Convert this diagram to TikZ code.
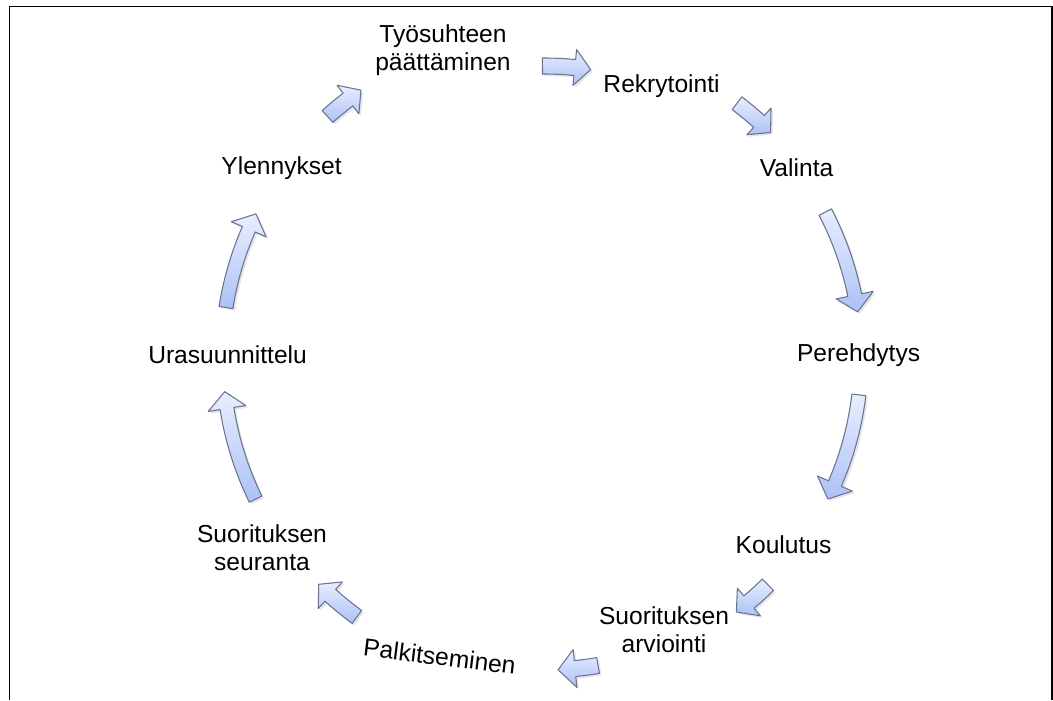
\documentclass[tikz,border=0pt]{standalone}
\usepackage{fontspec}
\setmainfont{Liberation Sans}
\usetikzlibrary{shadows}

\definecolor{arrowtop}{RGB}{232,238,255}
\definecolor{arrowbottom}{RGB}{172,193,246}
\definecolor{arrowline}{RGB}{105,115,145}

% curved block arrow round the centre:
% start angle, end angle, radius, half shaft, half head, head length
\newcommand{\cyclearrow}[6]{%
  \pgfmathsetmacro{\arrHead}{#2+#6/#3*57.2958}%
  \pgfmathsetmacro{\arrOut}{#3+#4}\pgfmathsetmacro{\arrIn}{#3-#4}%
  \pgfmathsetmacro{\arrHo}{#3+#5}\pgfmathsetmacro{\arrHi}{#3-#5}%
  \draw[blockarrow] (#1:\arrOut) arc[start angle=#1, end angle=\arrHead, radius=\arrOut]
    -- (\arrHead:\arrHo) -- (#2:#3) -- (\arrHead:\arrHi) -- (\arrHead:\arrIn)
    arc[start angle=\arrHead, end angle=#1, radius=\arrIn] -- cycle;}

\begin{document}
\begin{tikzpicture}[x = 0.02cm, y = 0.02cm,
    every node/.style = { align = center, font = \fontsize{14}{16}\selectfont },
    blockarrow/.style = { draw = arrowline, line width = 0.6pt, line join = round,
      top color = arrowtop, bottom color = arrowbottom,
      drop shadow = {shadow xshift=1.2pt,shadow yshift=-1.2pt,opacity=0.2} }]

    \useasboundingbox (-545,-342) rectangle (508,358);
    \draw[line width = 0.9pt] (-535.5,-342) -- (-535.5,351.7) -- (507,351.7) -- (507,-342);

    \node (ending)    at (-102,308) { Työsuhteen \\ päättäminen };
    \node (recruit)   at (120,272)  { Rekrytointi };
    \node (choice)    at (255,190)  { Valinta };
    \node (intro)     at (317,3)    { Perehdytys };
    \node (training)  at (242,-187) { Koulutus };
    \node (appraisal) at (119,-272) { Suorituksen \\ arviointi };
    \node (reward)    at (-102,-299) [rotate = -7] { Palkitseminen };
    \node (followup)  at (-283,-190) { Suorituksen \\ seuranta };
    \node (career)    at (-314,3)   { Urasuunnittelu };
    \node (promotion) at (-260,190) { Ylennykset };

    \cyclearrow{90.5}{81}{292}{8}{18}{16}
    \cyclearrow{53}{45}{319}{8}{18}{16}
    \cyclearrow{27.5}{8.4}{316}{7}{19}{17}
    \cyclearrow{-6.7}{-26.5}{316}{7}{19}{17}
    \cyclearrow{-45.5}{-53}{318}{8}{18}{16}
    \cyclearrow{-80.2}{-87.6}{312}{8}{19}{17}
    \cyclearrow{-126}{-135}{320}{8}{18}{16}
    \cyclearrow{-154}{-174}{322}{7}{19}{17}
    \cyclearrow{171}{153.5}{323}{7}{19}{17}
    \cyclearrow{132}{124.5}{325}{8}{18}{16}

\end{tikzpicture}
\end{document}
